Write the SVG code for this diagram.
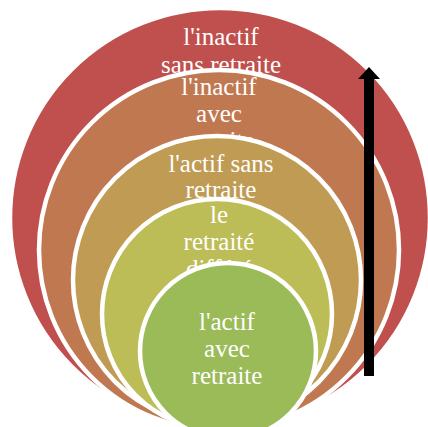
<svg xmlns="http://www.w3.org/2000/svg" width="428" height="427" viewBox="0 0 428 427">
<style>
.c{stroke:#fff;stroke-width:4.5}
.t{font-family:"Liberation Serif","Times New Roman",serif;font-size:25px;fill:#fff;text-anchor:middle}
</style>
<rect width="428" height="427" fill="#fff"/>
<g id="n1">
<circle class="c" cx="220" cy="218" r="210" fill="#C0504D"/>
<text class="t" x="221" y="45">l'inactif</text>
<text class="t" x="221" y="73">sans retraite</text>
</g>
<g id="n2">
<circle class="c" cx="219" cy="250" r="180" fill="#C07850"/>
<text class="t" x="219" y="95">l'inactif</text>
<text class="t" x="219" y="122">avec</text>
<text class="t" x="219" y="149">retraite</text>
</g>
<g id="n3">
<circle class="c" cx="217" cy="280" r="144" fill="#BF9B53"/>
<text class="t" x="221" y="172">l'actif sans</text>
<text class="t" x="221" y="198">retraite</text>
</g>
<g id="n4">
<circle class="c" cx="217" cy="314" r="115" fill="#BDBD58"/>
<text class="t" x="219" y="223">le</text>
<text class="t" x="219" y="250">retraité</text>
<text class="t" x="219" y="277">différé</text>
</g>
<g id="n5">
<circle class="c" cx="228" cy="351" r="88" fill="#9BBB59"/>
<text class="t" x="227" y="330">l'actif</text>
<text class="t" x="227" y="357">avec</text>
<text class="t" x="227" y="384">retraite</text>
</g>
<g id="connectors">
<polygon points="369,67 380,79 374,79 374,376 364,376 364,79 358,79" fill="#000"/>
</g>
</svg>
